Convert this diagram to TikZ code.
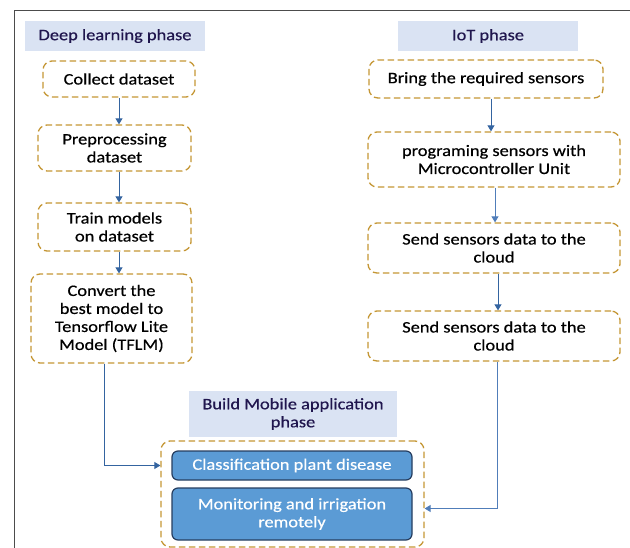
\documentclass[tikz,border=0pt]{standalone}
\usepackage{fontspec}
\setmainfont{Carlito}[FakeStretch=1.15,FakeBold=0.5]
\usetikzlibrary{arrows.meta,calc}
\definecolor{gold}{RGB}{196,150,52}
\definecolor{hdrfill}{RGB}{218,227,243}
\definecolor{hdrtext}{RGB}{32,22,78}
\definecolor{bluefill}{RGB}{91,155,213}
\definecolor{blueedge}{RGB}{38,62,96}
\definecolor{arr}{RGB}{52,100,160}
\definecolor{arrlight}{RGB}{80,125,185}
\tikzset{
  every node/.style={font=\fontsize{16pt}{18pt}\selectfont, inner sep=0pt, align=center},
  hdr/.style={fill=hdrfill, text=hdrtext, rectangle},
  stepbox/.style={draw=gold, line width=1.3pt, dash pattern=on 6.5pt off 3.5pt, rounded corners=9pt, rectangle, text=black},
  appbox/.style={draw=blueedge, fill=bluefill, line width=1.2pt, rounded corners=6pt, text=white},
  conn/.style={draw=arr, line width=0.9pt, -{Triangle[width=7pt,length=6pt]}},
  connl/.style={draw=arrlight, line width=0.9pt, -{Triangle[width=7pt,length=6pt]}},
}
\begin{document}
\begin{tikzpicture}[x=1pt,y=1pt]
\useasboundingbox (0,0) rectangle (630,-548);
% frame
\draw[line width=0.8pt, black!70] (14,-548) -- (14,-10) -- (630,-10);
% deep learning column
\node[hdr, minimum width=180pt, minimum height=30pt] (dlh) at (115,-36) {Deep learning phase};
\node[stepbox, minimum width=152pt, minimum height=36pt] (collect) at (119,-79) {Collect dataset};
\node[stepbox, minimum width=153pt, minimum height=46pt] (prep) at (114.5,-148) {Preprocessing\\dataset};
\node[stepbox, minimum width=153pt, minimum height=48pt] (train) at (114.5,-227) {Train models\\on dataset};
\node[stepbox, minimum width=161pt, minimum height=89pt] (convert) at (111.5,-318.5) {Convert the\\best model to\\Tensorflow Lite\\Model (TFLM)};
% IoT column
\node[hdr, minimum width=180pt, minimum height=30pt] (ioth) at (488,-36) {IoT phase};
\node[stepbox, minimum width=234pt, minimum height=38pt] (bring) at (486,-79) {Bring the required sensors};
\node[stepbox, minimum width=252pt, minimum height=55pt] (prog) at (494,-159.5) {programing sensors with\\Microcontroller Unit};
\node[stepbox, minimum width=252pt, minimum height=50pt] (sendA) at (494,-248) {Send sensors data to the\\cloud};
\node[stepbox, minimum width=252pt, minimum height=50pt] (sendB) at (494,-336) {Send sensors data to the\\cloud};
% mobile app
\node[hdr, minimum width=208pt, minimum height=46pt] (mobh) at (293,-414) {Build Mobile application\\phase};
\node[stepbox, minimum width=263pt, minimum height=106pt] (outer) at (292.5,-494) {};
\node[appbox, minimum width=240pt, minimum height=29pt] (class) at (292,-465.5) {Classification plant disease};
\node[appbox, minimum width=240pt, minimum height=52pt] (monit) at (292,-514) {Monitoring and irrigation\\remotely};
% connectors
\draw[conn] (collect.south) -- (collect.south |- prep.north);
\draw[conn] ([xshift=4.5pt]prep.south) -- ([xshift=4.5pt]prep.south |- train.north);
\draw[conn] ([xshift=4.5pt]train.south) -- ([xshift=4.5pt]train.south |- convert.north);
\draw[conn] ([xshift=5pt]bring.south) -- ([xshift=5pt]bring.south |- prog.north);
\draw[connl] ([xshift=1pt]prog.south) -- ([xshift=1pt]prog.south |- sendA.north);
\draw[conn] ([xshift=4pt]sendA.south) -- ([xshift=4pt]sendA.south |- sendB.north);
\draw[conn] ([xshift=-7.5pt]convert.south) |- (class.west -| outer.west);
\draw[connl] ([xshift=3pt]sendB.south) |- ([yshift=-14.5pt]outer.east);
\end{tikzpicture}
\end{document}
